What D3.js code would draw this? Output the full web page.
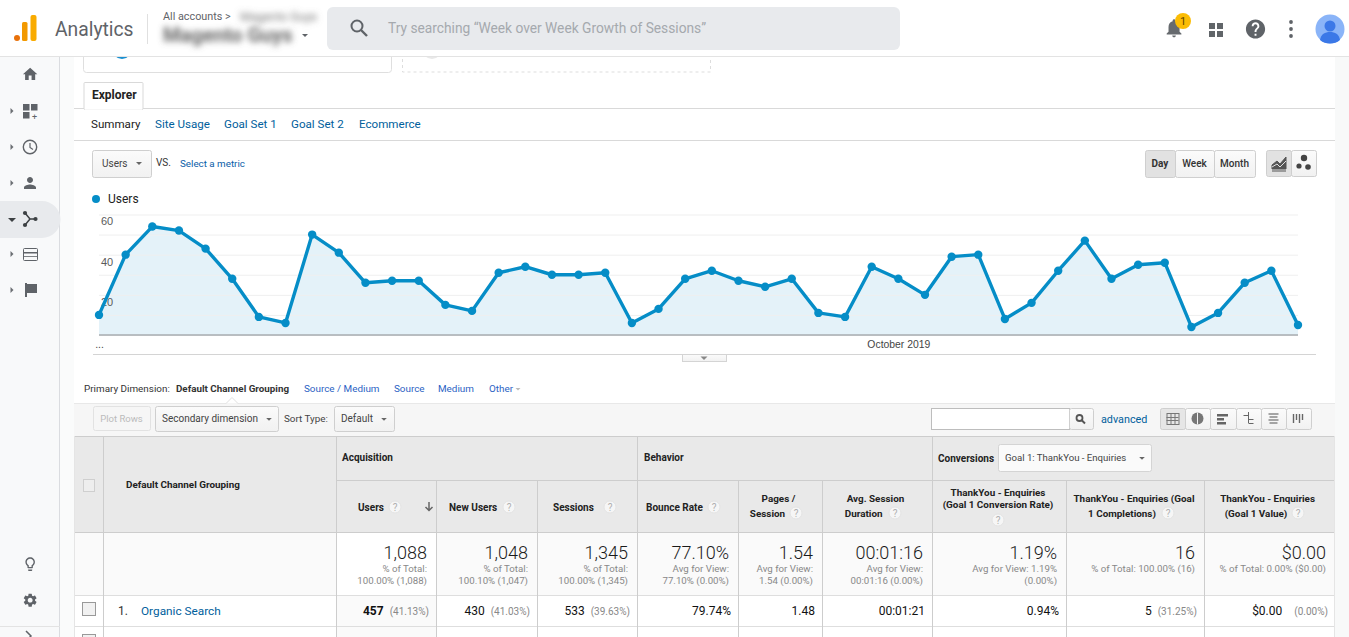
<!DOCTYPE html>
<html><head><meta charset="utf-8"><title>Analytics</title>
<script src="https://cdn.jsdelivr.net/npm/d3@7"></script>
<style>html,body{margin:0;padding:0;background:#fff;overflow:hidden}svg{display:block}</style>
</head><body><svg id="page" width="1349" height="637"></svg>
<script>
// ---- data ----
const users = [10,40,54,52,43,28,9,6,50,41,26,27,27,15,12,31,34,30,30,31,6,13,28,32,27,24,28,11,9,34,28,20,39,40,8,16,32,47,28,35,36,4,11,26,32,5];
const startDate = "2019-09-01";
const yTicks = [0,10,20,30,40,50,60];
const yLabels = [20,40,60];
const seriesName = "Users";
const tabs = ["Summary","Site Usage","Goal Set 1","Goal Set 2","Ecommerce"];
const granularity = ["Day","Week","Month"];
const dimensions = ["Source / Medium","Source","Medium","Other"];
const totals = ["1,088","1,048","1,345","77.10%","1.54","00:01:16","1.19%","16","$0.00"];
const totalsSub = [["% of Total:","100.00% (1,088)"],["% of Total:","100.10% (1,047)"],["% of Total:","100.00% (1,345)"],["Avg for View:","77.10% (0.00%)"],["Avg for View:","1.54 (0.00%)"],["Avg for View:","00:01:16 (0.00%)"],["Avg for View: 1.19%","(0.00%)"],["% of Total: 100.00% (16)"],["% of Total: 0.00% ($0.00)"]];
const rowValues = ["457","430","533","79.74%","1.48","00:01:21","0.94%","5","$0.00"];
const rowShares = ["(41.13%)","(41.03%)","(39.63%)","","","","","(31.25%)","(0.00%)"];
const colHeaders = [["Users"],["New Users"],["Sessions"],["Bounce Rate"],["Pages /","Session"],["Avg. Session","Duration"],["ThankYou - Enquiries","(Goal 1 Conversion Rate)"],["ThankYou - Enquiries (Goal","1 Completions)"],["ThankYou - Enquiries","(Goal 1 Value)"]];

// ---- helpers ----
const svg = d3.select("#page");
const RB = "Roboto, Arial, sans-serif";
function T(x,y,s,o={}){return svg.append("text").attr("x",x).attr("y",y).text(s)
  .attr("font-family",o.f||RB).attr("font-size",o.s||12).attr("fill",o.c||"#333")
  .attr("font-weight",o.w||(o.b?"700":"400")).attr("text-anchor",o.a||"start");}
function R(x,y,w,h,f,st,rx){return svg.append("rect").attr("x",x+(st?.5:0)).attr("y",y+(st?.5:0)).attr("width",w).attr("height",h)
  .attr("fill",f||"none").attr("stroke",st||"none").attr("rx",rx||0);}
function L(x1,y1,x2,y2,c,w){return svg.append("line").attr("x1",x1).attr("y1",y1).attr("x2",x2).attr("y2",y2).attr("stroke",c||"#ddd").attr("stroke-width",w||1);}
function P(d,x,y,sc,c){return svg.append("path").attr("d",d).attr("transform",`translate(${x},${y}) scale(${sc})`).attr("fill",c||"#616161");}
function C(x,y,r,f,st){return svg.append("circle").attr("cx",x).attr("cy",y).attr("r",r).attr("fill",f).attr("stroke",st||"none");}
function Tri(x,y,s,c,dir){const d=dir==="r"?`M${x},${y-s}L${x+s},${y}L${x},${y+s}Z`:`M${x-s},${y}L${x+s},${y}L${x},${y+s}Z`;return svg.append("path").attr("d",d).attr("fill",c||"#666");}
const defs = svg.append("defs");
const blurF = defs.append("filter").attr("id","blur").attr("x","-10%").attr("y","-50%").attr("width","120%").attr("height","200%");
blurF.append("feGaussianBlur").attr("stdDeviation",3);
const btnGrad = defs.append("linearGradient").attr("id","btn").attr("x1",0).attr("x2",0).attr("y1",0).attr("y2",1);
btnGrad.append("stop").attr("offset",0).attr("stop-color","#fbfbfb");btnGrad.append("stop").attr("offset",1).attr("stop-color","#f1f1f1");
const ICON = {
 home:"M10 20v-6h4v6h5v-8h3L12 3 2 12h3v8z",
 person:"M12 12c2.21 0 4-1.79 4-4s-1.79-4-4-4-4 1.79-4 4 1.79 4 4 4zm0 2c-2.67 0-8 1.34-8 4v2h16v-2c0-2.66-5.33-4-8-4z",
 help:"M12 2C6.48 2 2 6.48 2 12s4.48 10 10 10 10-4.48 10-10S17.52 2 12 2zm1 17h-2v-2h2v2zm2.07-7.75l-.9.92C13.45 12.9 13 13.5 13 15h-2v-.5c0-1.1.45-2.1 1.17-2.83l1.24-1.26c.37-.36.59-.86.59-1.41 0-1.1-.9-2-2-2s-2 .9-2 2H8c0-2.21 1.79-4 4-4s4 1.79 4 4c0 .88-.36 1.68-.93 2.25z",
 bell:"M12 22c1.1 0 2-.9 2-2h-4c0 1.1.89 2 2 2zm6-6v-5c0-3.07-1.64-5.64-4.5-6.32V4c0-.83-.67-1.5-1.5-1.5s-1.5.67-1.5 1.5v.68C7.63 5.36 6 7.92 6 11v5l-2 2v1h16v-1l-2-2z",
 gear:"M19.14 12.94c.04-.3.06-.61.06-.94 0-.32-.02-.64-.07-.94l2.03-1.58a.49.49 0 0 0 .12-.61l-1.92-3.32a.488.488 0 0 0-.59-.22l-2.39.96c-.5-.38-1.03-.7-1.62-.94l-.36-2.54a.484.484 0 0 0-.48-.41h-3.84c-.24 0-.43.17-.47.41l-.36 2.54c-.59.24-1.13.57-1.62.94l-2.39-.96c-.22-.08-.47 0-.59.22L2.74 8.87c-.12.21-.08.47.12.61l2.03 1.58c-.05.3-.09.63-.09.94s.02.64.07.94l-2.03 1.58a.49.49 0 0 0-.12.61l1.92 3.32c.12.22.37.29.59.22l2.39-.96c.5.38 1.03.7 1.62.94l.36 2.54c.05.24.24.41.48.41h3.84c.24 0 .44-.17.47-.41l.36-2.54c.59-.24 1.13-.56 1.62-.94l2.39.96c.22.08.47 0 .59-.22l1.92-3.32c.12-.22.07-.47-.12-.61l-2.01-1.58zM12 15.6c-1.98 0-3.6-1.62-3.6-3.6s1.62-3.6 3.6-3.6 3.6 1.62 3.6 3.6-1.62 3.6-3.6 3.6z",
 bulb:"M9 21c0 .55.45 1 1 1h4c.55 0 1-.45 1-1v-1H9v1zm3-19C8.14 2 5 5.14 5 9c0 2.38 1.19 4.47 3 5.74V17c0 .55.45 1 1 1h6c.55 0 1-.45 1-1v-2.26c1.81-1.27 3-3.36 3-5.74 0-3.86-3.14-7-7-7zm2 11.7V16h-4v-2.3C8.48 12.63 7 11.53 7 9c0-2.76 2.24-5 5-5s5 2.24 5 5c0 2.49-1.51 3.65-3 4.7z"
};

// ---- page backgrounds ----
R(0,56,60,581,"#f8f9fa");
R(60,56,14,581,"#fafbfb");
R(1335,56,14,581,"#f8f9f9");
L(59.5,56,59.5,637,"#dadce0");

// ---- top cards ----
R(83,50,308,22,"#fff","#dfdfdf",3);
C(122,49,10,"#1a8fd0");
svg.append("rect").attr("x",402.5).attr("y",50).attr("width",308).attr("height",22).attr("fill","#fff").attr("stroke","#ddd").attr("stroke-dasharray","3,3");
C(432,49,10,"#e8e8e8");

// ---- header ----
R(0,0,1349,56,"#fff");
L(0,56.5,1349,56.5,"#e3e3e3");
C(17,38,3,"#e8710a");
R(22,22,5.5,19,"#f29900",null,1.5);
R(30.5,15,6,26,"#f9ab00",null,2);
T(55,36,"Analytics",{s:19.3,c:"#5f6368"});
L(147.5,14,147.5,44,"#e0e0e0");
T(163,20,"All accounts >",{s:10.8,c:"#5f6368"});
T(240,21,"Magento Guys",{s:12,c:"#777"}).attr("filter","url(#blur)");
T(163,42,"Magento Guys",{s:20,c:"#666",b:1}).attr("filter","url(#blur)");
Tri(305,34,3,"#5f6368");
R(327,7,573,43,"#e8eaed",null,6);
svg.append("circle").attr("cx",357).attr("cy",26).attr("r",5.5).attr("fill","none").attr("stroke","#5f6368").attr("stroke-width",2);
L(361,30,367,36,"#5f6368",2.4);
T(388,33,"Try searching “Week over Week Growth of Sessions”",{s:13.75,c:"#a5a9ae"});
P(ICON.bell,1163,17,.92,"#666a6e");
C(1183,21,8,"#fbbc04");
T(1183,25,"1",{s:11,c:"#5f4400",a:"middle"});
[[1209,23],[1217,23],[1209,31],[1217,31]].forEach(p=>R(p[0],p[1],6,6,"#616569"));
P(ICON.help,1244,17.5,.96,"#5f6368");
[22,29,36].forEach(y=>C(1291,y,1.9,"#5f6368"));
C(1330,29,14.5,"#8ab4f8");
C(1330,26,5.5,"#3b78e7");
svg.append("path").attr("d","M1320,40c1-6,5-8,10-8s9,2,10,8c-3,2.6-6.3,3.5-10,3.5s-7-.9-10-3.5z").attr("fill","#3b78e7");

// ---- sidebar ----
P(ICON.home,21.5,65.5,.72,"#5f6368");
R(23,104,6.5,6.5,"#5f6368");R(31,104,6.5,6.5,"#5f6368");R(23,112,6.5,6.5,"#5f6368");
T(34.5,119.5,"+",{s:9,c:"#5f6368",a:"middle"});
svg.append("circle").attr("cx",30).attr("cy",147).attr("r",6.7).attr("fill","none").attr("stroke","#5f6368").attr("stroke-width",1.4);
svg.append("path").attr("d","M30,143v4.5l3,2").attr("fill","none").attr("stroke","#5f6368").attr("stroke-width",1.2);
P(ICON.person,21,174,.75,"#5f6368");
svg.append("path").attr("d","M0,201H42a18,18 0 0 1 0,37H0z").attr("fill","#e8eaed");
[[10,111],[10,147],[10,183],[10,254],[10,290]].forEach(p=>Tri(p[0]+.5,p[1],3,"#6b6f73","r"));
Tri(12,218,4,"#3c4043");
svg.append("path").attr("d","M25,213L30,219H37M30,219L25,225").attr("fill","none").attr("stroke","#3c4043").attr("stroke-width",1.5);
[[25,213],[25,225],[35.5,219]].forEach(p=>C(p[0],p[1],2.1,"#3c4043"));
R(23,248,14,12,"none","#5f6368",1);R(24,252,13,1.5,"#5f6368");R(24,256,13,.8,"#5f6368");
R(25,283,2,14,"#5f6368");
R(27,284,10,9,"#5f6368");
P(ICON.bulb,22,556,.68,"#5f6368");
P(ICON.gear,22,592,.68,"#5f6368");
L(0,626.5,60,626.5,"#e3e3e3");
svg.append("path").attr("d","M26,631L31,636L26,641").attr("fill","none").attr("stroke","#5f6368").attr("stroke-width",1.5);

// ---- explorer tabs ----
L(74,108.5,1335,108.5,"#d9d9d9");
L(74,140.5,1335,140.5,"#d9d9d9");
R(83.5,82,59,27,"#fff","#d9d9d9",1);
L(85,109,142,109,"#fff",1.5);
T(92,99,"Explorer",{s:12,b:1,c:"#222"});
const tabX=[91,155,224,291,359];
tabs.forEach((t,i)=>T(tabX[i],128,t,{s:11.6,c:i?"#00609c":"#222"}));
function Btn(x,y,w,h,f){return R(x,y,w,h,f||"url(#btn)","#cfcfcf",2);}
Btn(92,150,59,27);
T(102,167,"Users",{s:10,c:"#444"});
Tri(139,162,3,"#666");
T(156,166,"VS.",{s:10,c:"#333"});
T(180,167,"Select a metric",{s:9.8,c:"#0b5ea8"});
const gx=[1145,1175,1214,1255];
granularity.forEach((g,i)=>{Btn(gx[i],150,gx[i+1]-gx[i],27,i?null:"#e2e2e2");T((gx[i]+gx[i+1])/2,167,g,{s:10,c:"#333",a:"middle",w:i?"500":"700"});});
Btn(1266,150,25,26,"#e2e2e2");Btn(1291,150,25,26);
svg.append("path").attr("d","M1272,171H1286M1272,169V165L1277,161L1280,164L1286,157V169H1272Z").attr("fill","#555").attr("stroke","#555");
svg.append("path").attr("d","M1272,167L1277,164L1280,167L1286,161").attr("fill","none").attr("stroke","#e2e2e2");
[[1304,158,3.2],[1299,166,2.6],[1308,167,2.8]].forEach(p=>C(p[0],p[1],p[2],"#444"));

// ---- chart ----
const M={l:99,r:1298,t:214.5,b:335};
const parse=d3.utcParse("%Y-%m-%d");
const t0=parse(startDate);
const dates=users.map((_,i)=>d3.utcDay.offset(t0,i));
const x=d3.scaleUtc().domain(d3.extent(dates)).range([M.l,M.r]);
const y=d3.scaleLinear().domain([0,60]).range([M.b,M.t]);
C(96,199,4,"#058dc7");
T(108,203,seriesName,{s:12,c:"#222"});
const yAxis=svg.append("g").attr("transform",`translate(${M.l},0)`)
 .call(d3.axisRight(y).tickValues(yTicks).tickSize(M.r-M.l).tickFormat(d=>yLabels.includes(d)?d:""));
yAxis.select(".domain").remove();
yAxis.selectAll("line").attr("stroke","#efefef");
yAxis.selectAll("text").attr("x",2).attr("dy","0.95em").attr("font-family","Arial, Liberation Sans, sans-serif").attr("font-size",11).attr("fill","#5a5a5a");
svg.append("path").datum(users).attr("fill","#058dc7").attr("fill-opacity",.11)
 .attr("d",d3.area().x((d,i)=>x(dates[i])).y0(M.b).y1(d=>y(d)));
yAxis.raise();
L(M.l,M.b,M.r,M.b,"#a9adb0",1.6);
svg.append("path").datum(users).attr("fill","none").attr("stroke","#058dc7").attr("stroke-width",3.4).attr("stroke-linejoin","round")
 .attr("d",d3.line().x((d,i)=>x(dates[i])).y(d=>y(d)));
svg.selectAll("circle.pt").data(users).join("circle").attr("class","pt").attr("cx",(d,i)=>x(dates[i])).attr("cy",d=>y(d)).attr("r",4.2).attr("fill","#058dc7");
const xAxis=svg.append("g").attr("transform",`translate(0,${M.b})`)
 .call(d3.axisBottom(x).tickValues([t0,parse("2019-10-01")]).tickSize(0).tickFormat(d=>d.getTime()===t0.getTime()?"...":d3.utcFormat("%B %Y")(d)));
xAxis.select(".domain").remove();
xAxis.selectAll("text").attr("y",6).attr("font-family","Arial, Liberation Sans, sans-serif").attr("font-size",10.4).attr("fill","#444");
L(93,354.5,1316,354.5,"#d4d4d4");
R(682,354,44,7,"url(#btn)","#d4d4d4");
Tri(704,356.5,3.5,"#888");

// ---- primary dimension ----
T(84,392,"Primary Dimension:",{s:9.9,c:"#333"});
T(176,392,"Default Channel Grouping",{s:9.8,b:1,c:"#333"});
const dimX=[304,394,438,489];
dimensions.forEach((d,i)=>T(dimX[i],392,d,{s:9.9,c:"#2b62c4"}));
Tri(518,388,2.5,"#bbb");
R(74,403,1261,33,"#f6f6f6");
L(74,403.5,1335,403.5,"#e8e8e8");
svg.append("path").attr("d","M226,403.5L232,397.5L238,403.5").attr("fill","#fff").attr("stroke","#e0e0e0");
R(93,406,57,24,"#f6f6f6","#e2e2e2",2);
T(121.5,422,"Plot Rows",{s:9.5,c:"#bbb",a:"middle"});
Btn(155,406,123,25);
T(162,422,"Secondary dimension",{s:10,c:"#444"});
Tri(269,418,2.8,"#666");
T(284,422,"Sort Type:",{s:9.9,c:"#444"});
Btn(334,406,60,25);
T(341,422,"Default",{s:10,c:"#444"});
Tri(384,418,2.8,"#666");
R(931,408,138,21,"#fff","#bdbdbd");
Btn(1069,408,24,21);
svg.append("circle").attr("cx",1079.5).attr("cy",418).attr("r",3).attr("fill","none").attr("stroke","#555").attr("stroke-width",1.8);
L(1081.5,420,1085,423.5,"#555",2);
T(1101,423,"advanced",{s:10.8,c:"#00609c"});
const vx=[1160,1185,1210,1236,1261,1286,1311];
vx.slice(0,-1).forEach((v,i)=>{Btn(v,408,vx[i+1]-v,21,i?null:"#e6e6e6");
 const cx=(v+vx[i+1])/2;
 if(i===0){R(cx-6,413,12,11,"none","#777");[-2,2].forEach(d=>L(cx+d+.5,413,cx+d+.5,424,"#777"));[417,420].forEach(d=>L(cx-6,d+.5,cx+6,d+.5,"#777"));}
 if(i===1){C(cx,418.5,6,"#777");L(cx,412.5,cx,424.5,"#f4f4f4");}
 if(i===2){[[414,11],[418,7],[422,9]].forEach(b=>R(cx-6,b[0],b[1],2.5,"#666"));}
 if(i===3){L(cx-5,415.5,cx,415.5,"#666");L(cx,419.5,cx+5,419.5,"#666");L(cx,412,cx,423,"#666");L(cx,423.5,cx+5,423.5,"#666");}
 if(i===4){[414,417,420,423].forEach((d,j)=>L(cx-5+j%2,d,cx+5-j%2,d,"#888",1.5));}
 if(i===5){[-5,-2,1,4].forEach((d,j)=>L(cx+d,414,cx+d,j%2?420:423,"#666",1.4));}
});

// ---- table ----
const cols=[74,103,336,436,537,637,738,822,932,1066,1204,1335];
R(74,436,1261,97,"#e9e9e9");
R(74,533,1261,62,"#fafafa");
R(74,595,1261,42,"#fff");
R(336,533,100,62,"#fff");
R(336,595,100,31,"#fafafa");
R(336,627,100,10,"#fafafa");
const grid="#cdcdcd";
L(74,436.5,1335,436.5,grid);
L(336,480.5,1335,480.5,grid);
L(74,532.5,1335,532.5,grid);
L(74,595.5,1335,595.5,"#dedede");
L(74,626.5,1335,626.5,"#dedede");
cols.slice(1,-1).forEach((c,i)=>{
 const top=(c===436||c===537||c===738||c===822||c===1066||c===1204)?480:436;
 L(c+.5,top,c+.5,637,grid);
});
L(74.5,436,74.5,637,"#e5e5e5");
L(1334.5,436,1334.5,637,"#e5e5e5");
R(83,479,11,12,"#eee","#cfcfcf");
T(126,488,"Default Channel Grouping",{s:9.9,b:1,c:"#222"});
T(342,461,"Acquisition",{s:10,b:1,c:"#222"});
T(644,461,"Behavior",{s:10,b:1,c:"#222"});
T(938,462,"Conversions",{s:10,b:1,c:"#222"});
R(998,444,153,27,"#fafafa","#d4d4d4",2);
T(1005,461,"Goal 1: ThankYou - Enquiries",{s:9.6,c:"#444"});
Tri(1142,457,2.8,"#666");
function Q(cx,cy){C(cx,cy,6,"#f6f6f6","#e4e4e4");T(cx,cy+3.5,"?",{s:10,c:"#b0b0b0",a:"middle"});}
[[358,0,395],[449,1,509],[553,2,610],[646,3,714]].forEach(h=>{
  T(h[0],511,colHeaders[h[1]][0],{s:10,b:1,c:"#222"});Q(h[2],507);
});
svg.append("path").attr("d","M429,502v8M425.5,507l3.5,3.5l3.5,-3.5").attr("fill","none").attr("stroke","#666").attr("stroke-width",1.5);
function center2(i,c1,c2,q){const [a,b]=colHeaders[i];T(c1,502,a,{s:9.9,b:1,c:"#222",a:"middle"});
  T(c2,517,b,{s:9.9,b:1,c:"#222",a:"middle"});Q(q,513);}
center2(4,778.5,767.5,796);
center2(5,875.5,863.7,895);
center2(7,1134,1122,1168);
center2(8,1267.6,1256,1298);
T(998,496,colHeaders[6][0],{s:9.9,b:1,c:"#222",a:"middle"});
T(998,507.5,colHeaders[6][1],{s:9.9,b:1,c:"#222",a:"middle"});
Q(998,520);
totals.forEach((v,i)=>{
  const right=cols[i+3]-9;
  T(right,559,v,{s:18,c:"#1a1a1a",a:"end",w:"300"});
  totalsSub[i].forEach((s,j)=>T(right,572+j*12,s,{s:9.7,c:"#888",a:"end"}));
  const edge=cols[i+3]-7;
  if(rowShares[i]){
    const sh=T(edge,615,rowShares[i],{s:10,c:"#888",a:"end"});
    const w=sh.node().getComputedTextLength();
    T(edge-w-(i===8?12:6),615,rowValues[i],{s:12,b:i===0,c:"#111",a:"end"});
  } else {
    T(edge,615,rowValues[i],{s:12,c:"#111",a:"end"});
  }
});
R(82,602,13,13,"#f1f1f1","#999");
T(118,615,"1.",{s:12,c:"#333"});
T(141,615,"Organic Search",{s:11.8,c:"#00609c"});
R(82,634,13,13,"#f1f1f1","#999");
</script></body></html>
